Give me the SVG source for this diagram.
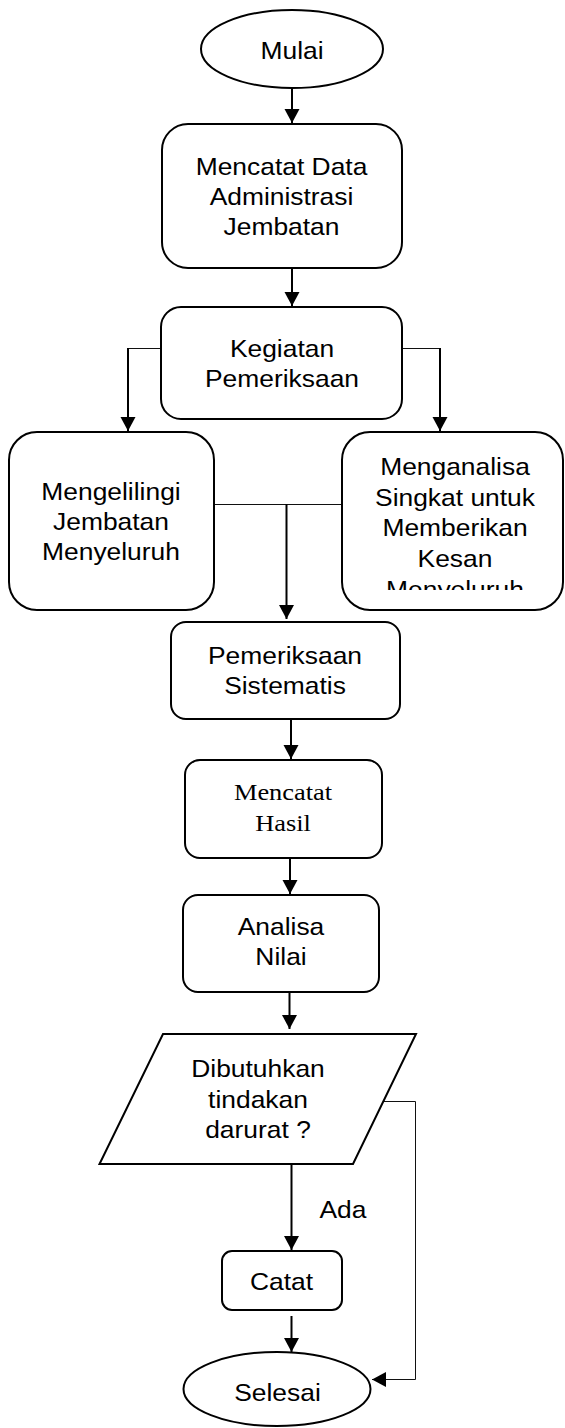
<svg xmlns="http://www.w3.org/2000/svg" width="565" height="1428" viewBox="0 0 565 1428">
<style>
.s{fill:#fff;stroke:#000;stroke-width:2}
.t{font-family:"Liberation Sans",Arial,sans-serif;font-size:24px;fill:#000;text-anchor:middle}
.tr{font-family:"Liberation Serif","Times New Roman",serif;font-size:24px;fill:#000;text-anchor:middle}
.c{fill:none;stroke:#000;stroke-width:2}
.thin{fill:none;stroke:#111;stroke-width:1}
</style>
<defs>
<marker id="ah" markerUnits="userSpaceOnUse" markerWidth="15" markerHeight="16" refX="14" refY="7.5" orient="auto" viewBox="0 0 15 16">
<path d="M0,0 L14,7.5 L0,15 z" fill="#000"/>
</marker>
<clipPath id="clipR"><rect x="341" y="430" width="224" height="160"/></clipPath>
</defs>
<g id="connectors">
<line class="c" x1="292" y1="88" x2="292" y2="123" marker-end="url(#ah)"/>
<line class="c" x1="292" y1="268" x2="292" y2="306" marker-end="url(#ah)"/>
<polyline class="thin" points="161,348.5 128,348.5"/>
<line class="c" x1="128" y1="348" x2="128" y2="431" marker-end="url(#ah)"/>
<polyline class="thin" points="403,348.5 440,348.5"/>
<line class="c" x1="440" y1="348" x2="440" y2="431" marker-end="url(#ah)"/>
<line class="thin" x1="214" y1="504.5" x2="342" y2="504.5"/>
<line class="c" x1="286.5" y1="504" x2="286.5" y2="619" marker-end="url(#ah)"/>
<line class="c" x1="291" y1="719" x2="291" y2="759" marker-end="url(#ah)"/>
<line class="c" x1="290" y1="858" x2="290" y2="894" marker-end="url(#ah)"/>
<line class="c" x1="289.5" y1="992" x2="289.5" y2="1029" marker-end="url(#ah)"/>
<line class="c" x1="291.5" y1="1164" x2="291.5" y2="1250" marker-end="url(#ah)"/>
<line class="c" x1="291.5" y1="1316" x2="291.5" y2="1352" marker-end="url(#ah)"/>
<polyline class="thin" points="384,1101.5 415.5,1101.5 415.5,1379.5 372,1379.5" marker-end="url(#ah)"/>
<g transform="translate(343 0) scale(1.1 1)"><text class="t" x="0" y="1218">Ada</text></g>
</g>
<g id="mulai">
<ellipse class="s" cx="292" cy="49" rx="91" ry="39"/>
<g transform="translate(292 0) scale(1.1 1)"><text class="t" x="0" y="59">Mulai</text></g>
</g>
<g id="mencatat-data">
<rect class="s" x="162" y="124" width="240" height="144" rx="26"/>
<g transform="translate(281.5 0) scale(1.1 1)">
<text class="t" x="0" y="175.5">Mencatat Data</text>
<text class="t" x="0" y="205.5">Administrasi</text>
<text class="t" x="0" y="235">Jembatan</text>
</g>
</g>
<g id="kegiatan">
<rect class="s" x="161" y="307" width="241" height="112" rx="20"/>
<g transform="translate(282 0) scale(1.1 1)">
<text class="t" x="0" y="357">Kegiatan</text>
<text class="t" x="0" y="387">Pemeriksaan</text>
</g>
</g>
<g id="mengelilingi">
<rect class="s" x="9" y="432" width="205" height="178" rx="28"/>
<g transform="translate(111 0) scale(1.1 1)">
<text class="t" x="0" y="500">Mengelilingi</text>
<text class="t" x="0" y="530">Jembatan</text>
<text class="t" x="0" y="560">Menyeluruh</text>
</g>
</g>
<g id="menganalisa">
<rect class="s" x="342" y="432" width="221" height="178" rx="28"/>
<g clip-path="url(#clipR)">
<g transform="translate(455 0) scale(1.1 1)">
<text class="t" x="0" y="475">Menganalisa</text>
<text class="t" x="0" y="506">Singkat untuk</text>
<text class="t" x="0" y="536.5">Memberikan</text>
<text class="t" x="0" y="567">Kesan</text>
<text class="t" x="0" y="598">Menyeluruh</text>
</g>
</g>
</g>
<g id="pemeriksaan-sistematis">
<rect class="s" x="171" y="622" width="229" height="97" rx="15"/>
<g transform="translate(285 0) scale(1.1 1)">
<text class="t" x="0" y="664">Pemeriksaan</text>
<text class="t" x="0" y="694">Sistematis</text>
</g>
</g>
<g id="mencatat-hasil">
<rect class="s" x="185" y="760" width="197" height="98" rx="15"/>
<g transform="translate(283 0) scale(1.1 1)">
<text class="tr" x="0" y="800">Mencatat</text>
<text class="tr" x="0" y="831">Hasil</text>
</g>
</g>
<g id="analisa-nilai">
<rect class="s" x="183" y="895" width="196" height="97" rx="15"/>
<g transform="translate(281 0) scale(1.1 1)">
<text class="t" x="0" y="935">Analisa</text>
<text class="t" x="0" y="965">Nilai</text>
</g>
</g>
<g id="keputusan">
<polygon class="s" points="163,1034 416,1034 353,1164 99.5,1164"/>
<g transform="translate(258 0) scale(1.1 1)">
<text class="t" x="0" y="1077">Dibutuhkan</text>
<text class="t" x="0" y="1108">tindakan</text>
<text class="t" x="0" y="1138">darurat ?</text>
</g>
</g>
<g id="catat">
<rect class="s" x="222" y="1251" width="120" height="59" rx="10"/>
<g transform="translate(281.5 0) scale(1.1 1)"><text class="t" x="0" y="1290">Catat</text></g>
</g>
<g id="selesai">
<ellipse class="s" cx="277" cy="1389" rx="93.5" ry="37"/>
<g transform="translate(277.5 0) scale(1.1 1)"><text class="t" x="0" y="1401">Selesai</text></g>
</g>
</svg>
